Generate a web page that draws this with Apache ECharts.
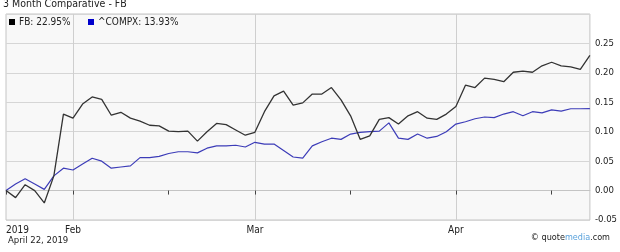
<!DOCTYPE html>
<html><head><meta charset="utf-8">
<script src="https://cdn.jsdelivr.net/npm/echarts@6/dist/echarts.min.js"></script>
<style>html,body{margin:0;padding:0;background:#fff}#c{width:620px;height:252px}</style>
</head><body><div id="c"></div>
<script>
const dates = [
 '2019-01-23','2019-01-24','2019-01-25','2019-01-28','2019-01-29','2019-01-30','2019-01-31',
 '2019-02-01','2019-02-04','2019-02-05','2019-02-06','2019-02-07','2019-02-08','2019-02-11','2019-02-12','2019-02-13','2019-02-14','2019-02-15','2019-02-19','2019-02-20','2019-02-21','2019-02-22','2019-02-25','2019-02-26','2019-02-27','2019-02-28',
 '2019-03-01','2019-03-04','2019-03-05','2019-03-06','2019-03-07','2019-03-08','2019-03-11','2019-03-12','2019-03-13','2019-03-14','2019-03-15','2019-03-18','2019-03-19','2019-03-20','2019-03-21','2019-03-22','2019-03-25','2019-03-26','2019-03-27','2019-03-28','2019-03-29',
 '2019-04-01','2019-04-02','2019-04-03','2019-04-04','2019-04-05','2019-04-08','2019-04-09','2019-04-10','2019-04-11','2019-04-12','2019-04-15','2019-04-16','2019-04-17','2019-04-18','2019-04-22'
];
const fbValues = [
 0, -0.012, 0.010, 0.000, -0.021, 0.025, 0.130,
 0.123, 0.147, 0.159, 0.155, 0.128, 0.133, 0.123, 0.118, 0.111, 0.110, 0.101, 0.100, 0.101, 0.084, 0.100, 0.114, 0.112, 0.103, 0.094,
 0.099, 0.134, 0.161, 0.169, 0.145, 0.149, 0.164, 0.164, 0.175, 0.154, 0.127, 0.087, 0.093, 0.121, 0.124, 0.113, 0.127, 0.134, 0.123, 0.121, 0.130,
 0.143, 0.179, 0.175, 0.191, 0.189, 0.185, 0.201, 0.203, 0.201, 0.212, 0.218, 0.212, 0.210, 0.206, 0.2295
];
const compxValues = [
 0, 0.011, 0.020, 0.011, 0.002, 0.025, 0.038,
 0.035, 0.045, 0.055, 0.050, 0.038, 0.040, 0.042, 0.056, 0.056, 0.058, 0.063, 0.066, 0.066, 0.064, 0.072, 0.076, 0.076, 0.077, 0.074,
 0.082, 0.079, 0.079, 0.068, 0.057, 0.055, 0.076, 0.083, 0.089, 0.087, 0.096, 0.099, 0.100, 0.101, 0.115, 0.089, 0.087, 0.096, 0.089, 0.092, 0.100,
 0.113, 0.117, 0.122, 0.125, 0.124, 0.130, 0.134, 0.127, 0.134, 0.132, 0.137, 0.135, 0.139, 0.139, 0.1393
];
const labelDates = ['2019-01-23','2019-02-01','2019-03-01','2019-04-01'];
const labelTexts = ['2019','Feb','Mar','Apr'];
const gridDates = ['2019-02-01','2019-03-01','2019-04-01'];
const tickDates = ['2019-01-23','2019-02-01','2019-02-15','2019-03-01','2019-03-15','2019-04-01','2019-04-15'];
const seriesNames = ['FB','^COMPX'];
const seriesPct = ['22.95%','13.93%'];
const yTicks = [-0.05, 0.00, 0.05, 0.10, 0.15, 0.20, 0.25];

const FONT = 'DejaVu Sans Condensed, DejaVu Sans, sans-serif';
const chart = echarts.init(document.getElementById('c'));
const legendFmt = n => n + ': ' + seriesPct[seriesNames.indexOf(n)];
chart.setOption({
  animation: false,
  backgroundColor: '#fff',
  title: { text: '3 Month Comparative - FB', left: 3, top: -1, padding: 0,
    textStyle: { fontFamily: FONT, fontSize: 10.5, fontWeight: 'normal', color: '#222' } },
  legend: [
    { data: [{name: seriesNames[0], icon: 'rect', itemStyle: {color: '#000'}}], left: 9, top: 17, padding: 0, itemWidth: 6, itemHeight: 6, itemGap: 4,
      formatter: legendFmt, textStyle: { fontFamily: FONT, fontSize: 10, color: '#222', padding: [0,0,0,-1] } },
    { data: [{name: seriesNames[1], icon: 'rect', itemStyle: {color: '#0000cc'}}], left: 88, top: 17, padding: 0, itemWidth: 6, itemHeight: 6, itemGap: 4,
      formatter: legendFmt, textStyle: { fontFamily: FONT, fontSize: 10, color: '#222', padding: [0,0,0,-1] } }
  ],
  grid: { left: 6, right: 30, top: 14, bottom: 32, show: true, backgroundColor: '#f8f8f8', borderColor: '#c4c4c4', borderWidth: 1 },
  xAxis: {
    type: 'category', data: dates, boundaryGap: false,
    axisLine: { show: true, lineStyle: { color: '#c4c4c4' } },
    axisTick: { show: true, length: 4, lineStyle: { color: '#444' },
      interval: (i, v) => tickDates.includes(v) },
    axisLabel: { show: true, margin: 5, fontFamily: FONT, fontSize: 10, color: '#222', alignMinLabel: 'left',
      interval: (i, v) => labelDates.includes(v),
      formatter: v => labelTexts[labelDates.indexOf(v)] || '' },
    splitLine: { show: true, lineStyle: { color: '#cfcfcf' },
      interval: (i, v) => gridDates.includes(v) }
  },
  yAxis: {
    type: 'value', position: 'right', min: -0.05, max: 0.30, interval: 0.05,
    axisLine: { show: false }, axisTick: { show: false },
    axisLabel: { margin: 5, fontFamily: FONT, fontSize: 9.5, color: '#222',
      formatter: v => yTicks.some(t => Math.abs(t - v) < 1e-9) ? v.toFixed(2) : '' },
    splitLine: { show: true, lineStyle: { color: '#d6d6d6' } }
  },
  series: [
    { name: seriesNames[1], type: 'line', data: compxValues, symbol: 'none', z: 2,
      lineStyle: { color: '#3c3cb8', width: 1.2 }, itemStyle: { color: '#0000cc' } },
    { name: seriesNames[0], type: 'line', data: fbValues, symbol: 'none', z: 3,
      lineStyle: { color: '#333', width: 1.3 }, itemStyle: { color: '#000' } }
  ],
  graphic: [
    { type: 'text', left: 8, top: 236, style: { text: 'April 22, 2019', font: '9.5px ' + FONT, fill: '#222' } },
    { type: 'text', right: 10, top: 233, style: {
        text: '© quote{m|media}.com', font: '9px ' + FONT, fill: '#222',
        rich: { m: { fill: '#5aa2dc', font: '9px ' + FONT } } } }
  ]
});
</script></body></html>
